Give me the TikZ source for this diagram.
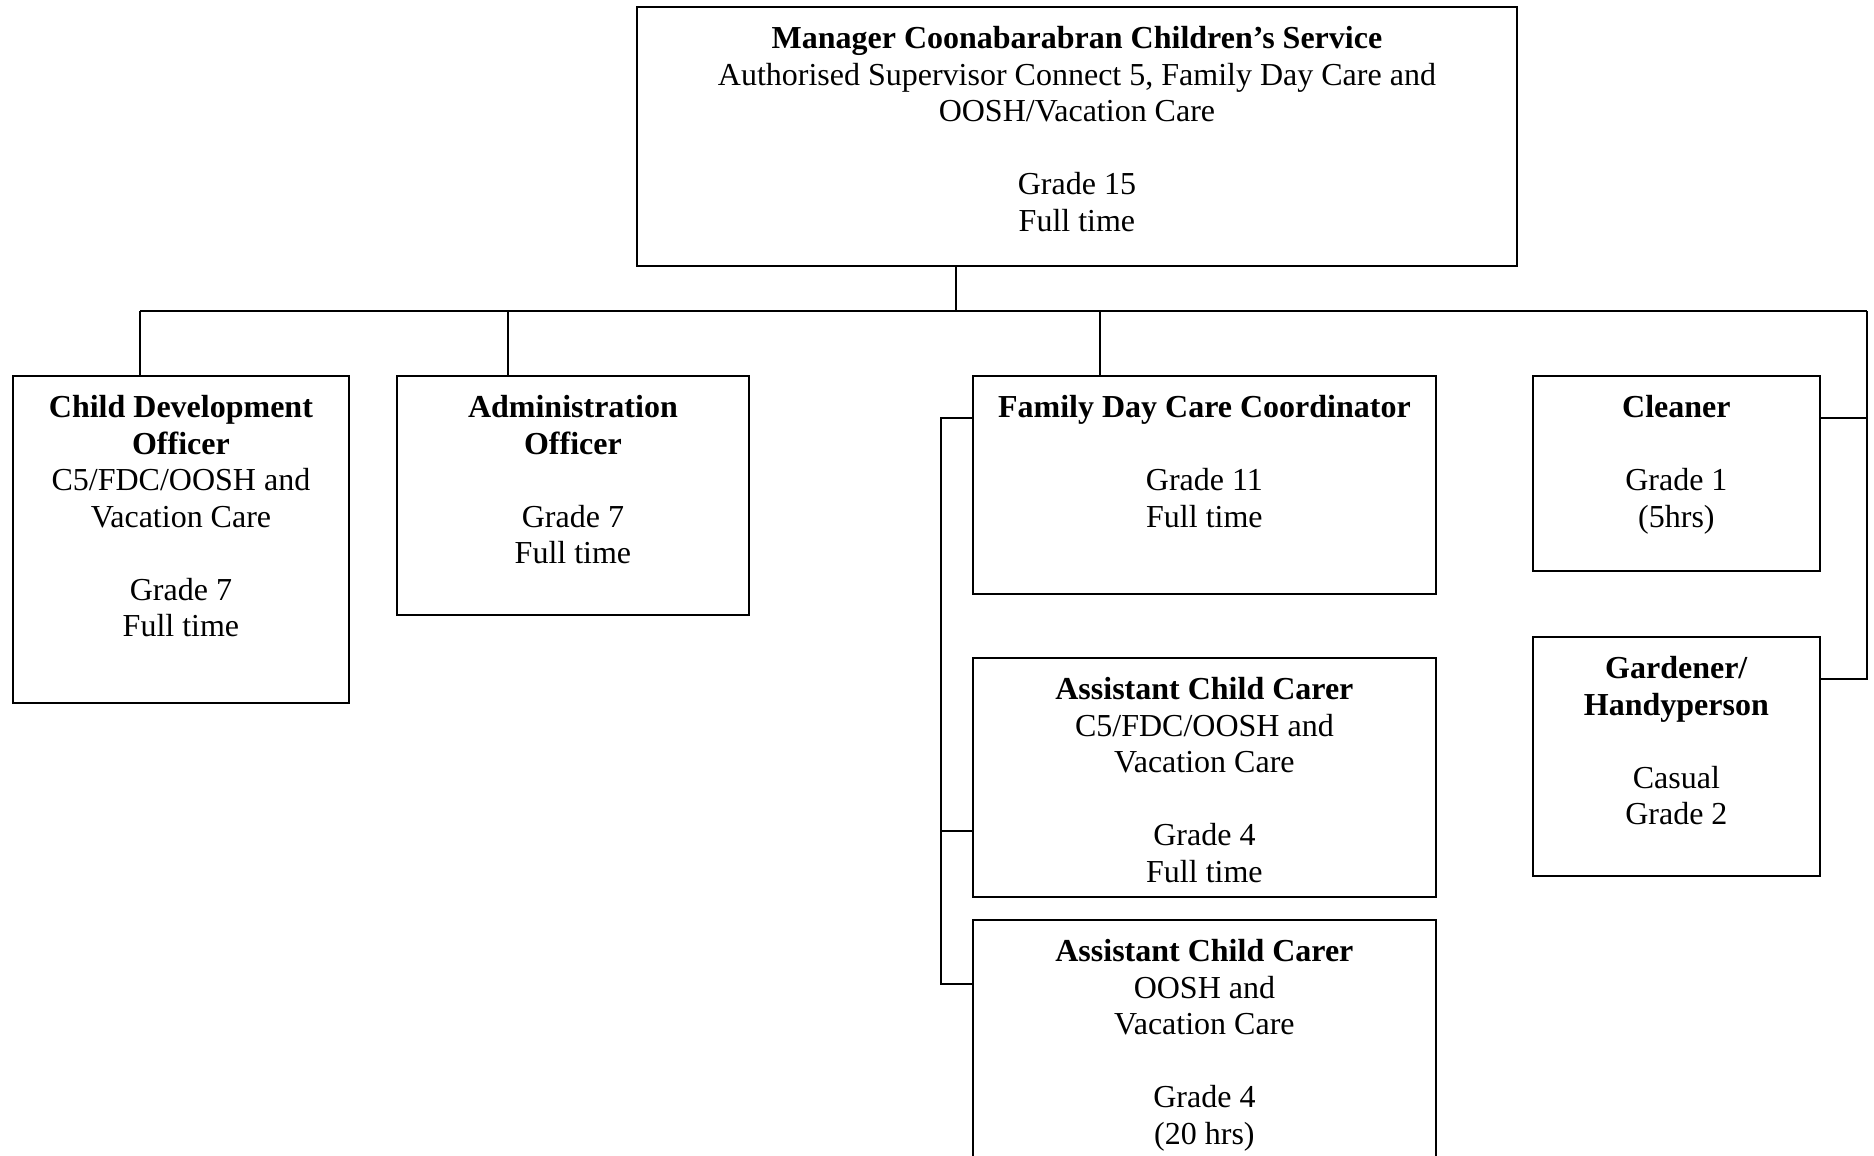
\documentclass[tikz,border=0pt]{standalone}
\usepackage{fontspec}
\setmainfont{Liberation Serif}
\usepackage{tikz}
\usetikzlibrary{calc}
\tikzset{
  post/.style={draw, line width=0.7pt, anchor=north west, inner sep=0pt},
  info/.style={anchor=north, align=center, inner sep=0pt, font=\fontsize{12}{13.7}\selectfont},
  link/.style={line width=0.7pt}
}

\begin{document}
\begin{tikzpicture}[x=0.375pt, y=-0.375pt]
  \useasboundingbox (0,0) rectangle (1874,1155);

  % top box
  \node[post, minimum width=330pt, minimum height=97.1pt] (mgr) at (636,6) {};
  \node[info] (mgr-t) at ($(mgr.north)+(0,20)$) {\textbf{Manager Coonabarabran Children’s Service}\\
    Authorised Supervisor Connect 5, Family Day Care and\\OOSH/Vacation Care\\[\baselineskip]Grade 15\\Full time};

  % second row
  \node[post, minimum width=126pt, minimum height=122.6pt] (cdo) at (12,375) {};
  \node[info] (cdo-t) at ($(cdo.north)+(0,20)$) {\textbf{Child Development}\\\textbf{Officer}\\
    C5/FDC/OOSH and\\Vacation Care\\[\baselineskip]Grade 7\\Full time};

  \node[post, minimum width=132pt, minimum height=89.6pt] (adm) at (396,375) {};
  \node[info] (adm-t) at ($(adm.north)+(0,20)$) {\textbf{Administration}\\\textbf{Officer}\\[\baselineskip]Grade 7\\Full time};

  \node[post, minimum width=173.6pt, minimum height=81.75pt] (fdc) at (972,375) {};
  \node[info] (fdc-t) at ($(fdc.north)+(0,20)$) {\textbf{Family Day Care Coordinator}\\[\baselineskip]Grade 11\\Full time};

  \node[post, minimum width=107.6pt, minimum height=73.1pt] (cln) at (1532,375) {};
  \node[info] (cln-t) at ($(cln.north)+(0,20)$) {\textbf{Cleaner}\\[\baselineskip]Grade 1\\(5hrs)};

  % under the coordinator
  \node[post, minimum width=173.6pt, minimum height=89.6pt] (acc1) at (972,657) {};
  \node[info] (acc1-t) at ($(acc1.north)+(0,20)$) {\textbf{Assistant Child Carer}\\
    C5/FDC/OOSH and\\Vacation Care\\[\baselineskip]Grade 4\\Full time};

  \node[post, minimum width=173.6pt, minimum height=105.4pt] (acc2) at (972,919) {};
  \node[info] (acc2-t) at ($(acc2.north)+(0,20)$) {\textbf{Assistant Child Carer}\\
    OOSH and\\Vacation Care\\[\baselineskip]Grade 4\\(20 hrs)};

  \node[post, minimum width=107.6pt, minimum height=89.6pt] (gdn) at (1532,636) {};
  \node[info] (gdn-t) at ($(gdn.north)+(0,20)$) {\textbf{Gardener/}\\\textbf{Handyperson}\\[\baselineskip]Casual\\Grade 2};

  % bus
  \coordinate (bus) at (956,311);
  \coordinate (busL) at (140,311);
  \coordinate (busR) at (1867,311);
  \draw[link] (mgr.south -| bus) -- (bus);
  \draw[link] (busL) -- (busR);
  \draw[link] (busL) -- (cdo.north -| busL);
  \draw[link] (bus -| 508,0) -- (adm.north -| 508,0);
  \draw[link] (bus -| 1100,0) -- (fdc.north -| 1100,0);

  % right bracket
  \coordinate (cstub) at (1867,418);
  \coordinate (gstub) at (1867,679);
  \draw[link] (busR) -- (gstub) -- (gstub -| gdn.east);
  \draw[link] (cstub) -- (cstub -| cln.east);

  % left bracket
  \coordinate (ltop) at (941,418);
  \coordinate (lmid) at (941,831);
  \coordinate (lbot) at (941,984);
  \draw[link] (fdc.west |- ltop) -- (ltop) -- (lbot) -- (acc2.west |- lbot);
  \draw[link] (lmid) -- (acc1.west |- lmid);
\end{tikzpicture}
\end{document}
